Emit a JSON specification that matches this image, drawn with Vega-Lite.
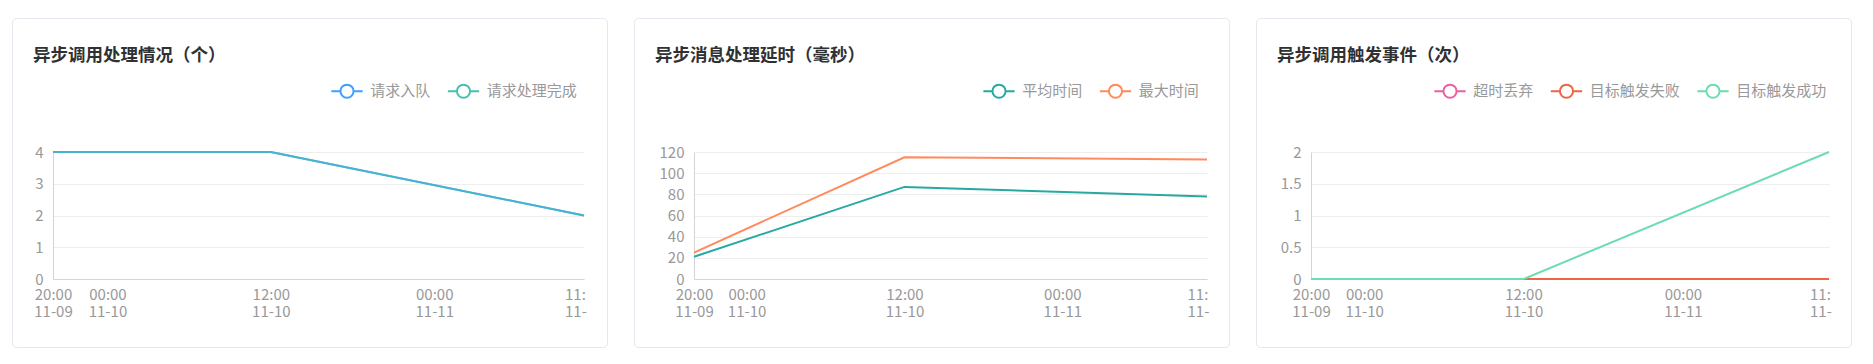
{
  "$schema": "https://vega.github.io/schema/vega-lite/v6.json",
  "background": "white",
  "padding": {"left": 11, "top": 17, "right": 0, "bottom": 0},
  "resolve": {"scale": {"color": "independent", "strokeOpacity": "independent"}, "legend": {"color": "independent", "strokeOpacity": "independent"}},
  "datasets": {
    "p1": [
      {"t": "2023-11-09T20:00:00", "s": "请求入队", "v": 4},
      {"t": "2023-11-10T12:00:00", "s": "请求入队", "v": 4},
      {"t": "2023-11-11T11:00:00", "s": "请求入队", "v": 2},
      {"t": "2023-11-09T20:00:00", "s": "请求处理完成", "v": 4},
      {"t": "2023-11-10T12:00:00", "s": "请求处理完成", "v": 4},
      {"t": "2023-11-11T11:00:00", "s": "请求处理完成", "v": 2}
    ],
    "p2": [
      {"t": "2023-11-09T20:00:00", "s": "平均时间", "v": 21},
      {"t": "2023-11-10T12:00:00", "s": "平均时间", "v": 87},
      {"t": "2023-11-11T11:00:00", "s": "平均时间", "v": 78},
      {"t": "2023-11-09T20:00:00", "s": "最大时间", "v": 25},
      {"t": "2023-11-10T12:00:00", "s": "最大时间", "v": 115},
      {"t": "2023-11-11T11:00:00", "s": "最大时间", "v": 113}
    ],
    "p3": [
      {"t": "2023-11-09T20:00:00", "s": "超时丢弃", "v": 0},
      {"t": "2023-11-10T12:00:00", "s": "超时丢弃", "v": 0},
      {"t": "2023-11-11T11:00:00", "s": "超时丢弃", "v": 0},
      {"t": "2023-11-09T20:00:00", "s": "目标触发失败", "v": 0},
      {"t": "2023-11-10T12:00:00", "s": "目标触发失败", "v": 0},
      {"t": "2023-11-11T11:00:00", "s": "目标触发失败", "v": 0},
      {"t": "2023-11-09T20:00:00", "s": "目标触发成功", "v": 0},
      {"t": "2023-11-10T12:00:00", "s": "目标触发成功", "v": 0},
      {"t": "2023-11-11T11:00:00", "s": "目标触发成功", "v": 2}
    ]
  },
  "hconcat": [
    {
      "width": 595,
      "height": 329,
      "title": {"text": "异步调用处理情况（个）"},
      "data": {"name": "p1"},
      "mark": {"type": "line", "strokeWidth": 2},
      "encoding": {
        "x": {
          "field": "t", "type": "temporal",
          "scale": {"domain": [{"year": 2023, "month": 11, "date": 9, "hours": 20}, {"year": 2023, "month": 11, "date": 11, "hours": 11}], "range": [41, 572]},
          "axis": {
            "title": null, "offset": -68,
            "values": [{"year": 2023, "month": 11, "date": 9, "hours": 20}, {"year": 2023, "month": 11, "date": 10, "hours": 0}, {"year": 2023, "month": 11, "date": 10, "hours": 12}, {"year": 2023, "month": 11, "date": 11, "hours": 0}, {"year": 2023, "month": 11, "date": 11, "hours": 11}],
            "labelExpr": "datum.index == 1 ? ['11:', '11-'] : [timeFormat(datum.value, '%H:%M'), timeFormat(datum.value, '%m-%d')]",
            "labelAlign": {"condition": {"test": "datum.index == 1", "value": "left"}, "value": "center"},
            "labelOffset": {"condition": {"test": "datum.index == 1", "value": -19.5}, "value": 0}
          }
        },
        "y": {
          "field": "v", "type": "quantitative",
          "scale": {"domain": [0, 4], "range": [261, 134], "nice": false},
          "axis": {"title": null, "offset": -41, "values": [0, 1, 2, 3, 4], "format": "~r"}
        },
        "color": {
          "field": "s", "type": "nominal",
          "scale": {"domain": ["请求入队", "请求处理完成"], "range": ["#409eff", "#4bbfaf"]},
          "legend": {"orient": "none", "legendX": 318, "legendY": 56}
        },
        "strokeOpacity": {
          "field": "s", "type": "nominal",
          "scale": {"domain": ["请求入队", "请求处理完成"], "range": [1, 0.6]},
          "legend": null
        }
      }
    },
    {
      "width": 595,
      "height": 329,
      "title": {"text": "异步消息处理延时（毫秒）"},
      "data": {"name": "p2"},
      "mark": {"type": "line", "strokeWidth": 2},
      "encoding": {
        "x": {
          "field": "t", "type": "temporal",
          "scale": {"domain": [{"year": 2023, "month": 11, "date": 9, "hours": 20}, {"year": 2023, "month": 11, "date": 11, "hours": 11}], "range": [60, 573]},
          "axis": {
            "title": null, "offset": -68,
            "values": [{"year": 2023, "month": 11, "date": 9, "hours": 20}, {"year": 2023, "month": 11, "date": 10, "hours": 0}, {"year": 2023, "month": 11, "date": 10, "hours": 12}, {"year": 2023, "month": 11, "date": 11, "hours": 0}, {"year": 2023, "month": 11, "date": 11, "hours": 11}],
            "labelExpr": "datum.index == 1 ? ['11:', '11-'] : [timeFormat(datum.value, '%H:%M'), timeFormat(datum.value, '%m-%d')]",
            "labelAlign": {"condition": {"test": "datum.index == 1", "value": "left"}, "value": "center"},
            "labelOffset": {"condition": {"test": "datum.index == 1", "value": -20}, "value": 0}
          }
        },
        "y": {
          "field": "v", "type": "quantitative",
          "scale": {"domain": [0, 120], "range": [261, 134], "nice": false},
          "axis": {"title": null, "offset": -60, "values": [0, 20, 40, 60, 80, 100, 120], "format": "~r"}
        },
        "color": {
          "field": "s", "type": "nominal",
          "scale": {"domain": ["平均时间", "最大时间"], "range": ["#27a9a3", "#ff8a5b"]},
          "legend": {"orient": "none", "legendX": 348, "legendY": 56}
        }
      }
    },
    {
      "width": 595,
      "height": 329,
      "title": {"text": "异步调用触发事件（次）"},
      "data": {"name": "p3"},
      "mark": {"type": "line", "strokeWidth": 2},
      "encoding": {
        "x": {
          "field": "t", "type": "temporal",
          "scale": {"domain": [{"year": 2023, "month": 11, "date": 9, "hours": 20}, {"year": 2023, "month": 11, "date": 11, "hours": 11}], "range": [55, 573]},
          "axis": {
            "title": null, "offset": -68,
            "values": [{"year": 2023, "month": 11, "date": 9, "hours": 20}, {"year": 2023, "month": 11, "date": 10, "hours": 0}, {"year": 2023, "month": 11, "date": 10, "hours": 12}, {"year": 2023, "month": 11, "date": 11, "hours": 0}, {"year": 2023, "month": 11, "date": 11, "hours": 11}],
            "labelExpr": "datum.index == 1 ? ['11:', '11-'] : [timeFormat(datum.value, '%H:%M'), timeFormat(datum.value, '%m-%d')]",
            "labelAlign": {"condition": {"test": "datum.index == 1", "value": "left"}, "value": "center"},
            "labelOffset": {"condition": {"test": "datum.index == 1", "value": -19.5}, "value": 0}
          }
        },
        "y": {
          "field": "v", "type": "quantitative",
          "scale": {"domain": [0, 2], "range": [261, 134], "nice": false},
          "axis": {"title": null, "offset": -55, "values": [0, 0.5, 1, 1.5, 2], "format": "~r"}
        },
        "color": {
          "field": "s", "type": "nominal",
          "scale": {"domain": ["超时丢弃", "目标触发失败", "目标触发成功"], "range": ["#ec5fa2", "#ee6446", "#6ddcb0"]},
          "legend": {"orient": "none", "legendX": 177, "legendY": 56}
        }
      }
    }
  ],
  "config": {
    "font": "Noto Sans CJK SC",
    "concat": {"spacing": 25},
    "view": {"stroke": "#e4e7ed", "strokeWidth": 1, "cornerRadius": 4, "fill": "white"},
    "title": {
      "anchor": "start", "frame": "group", "offset": -46, "dx": 21,
      "fontSize": 17.5, "fontWeight": "bold", "color": "#303133", "font": "Noto Sans CJK SC"
    },
    "axis": {
      "labelFont": "Noto Sans CJK SC", "labelFontSize": 15, "labelColor": "#999999",
      "ticks": false, "tickSize": 0, "domainColor": "#d4d4d4", "gridColor": "#eeeeee", "domainWidth": 1
    },
    "axisX": {"grid": false, "labelPadding": 8, "labelLineHeight": 17, "labelFlush": false, "labelOverlap": false, "labelBound": false},
    "axisY": {"grid": true, "labelPadding": 10, "domain": true},
    "legend": {
      "direction": "horizontal", "title": null, "padding": 0,
      "symbolType": "M-1,0L-0.42,0M0.42,0L1,0M0.42,0A0.42,0.42,0,1,1,-0.42,0A0.42,0.42,0,1,1,0.42,0Z",
      "symbolSize": 977, "symbolStrokeWidth": 1.5, "symbolFillColor": "transparent",
      "labelFont": "Noto Sans CJK SC", "labelFontSize": 15, "labelColor": "#999999",
      "labelOffset": 6.25, "columnPadding": 12.5
    },
    "line": {"strokeWidth": 2}
  }
}
